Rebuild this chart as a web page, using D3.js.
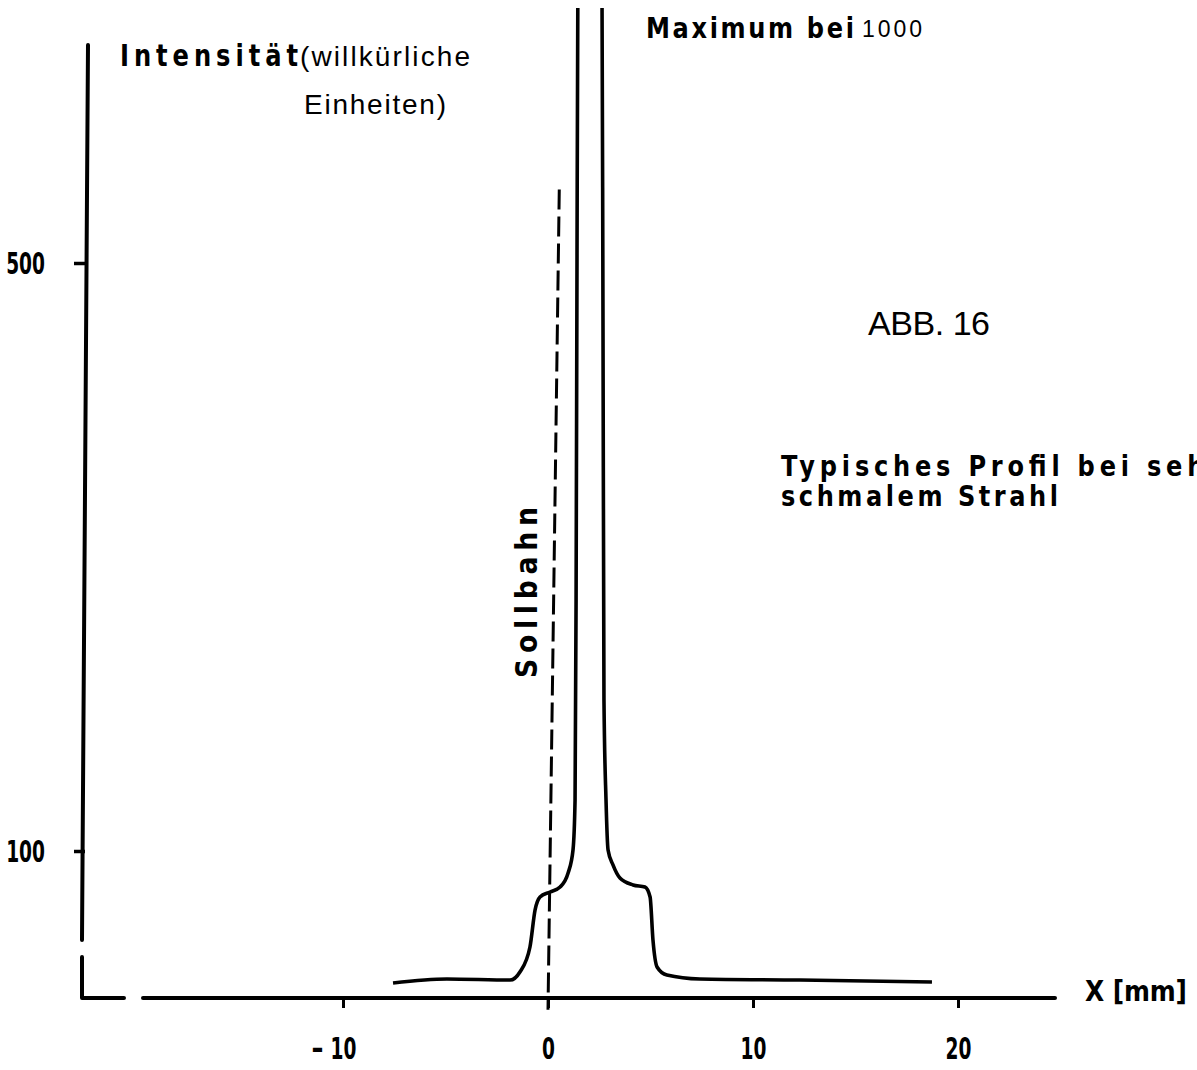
<!DOCTYPE html>
<html>
<head>
<meta charset="utf-8">
<script src="https://cdn.jsdelivr.net/npm/d3@7"></script>
<style>
  body { margin: 0; background: #fff; }
  svg { display: block; }
  .lettering { font-family: "DejaVu Sans", sans-serif; font-weight: bold; fill: #000; }
  .plain { font-family: "Liberation Sans", "Noto Sans", sans-serif; fill: #000; }
</style>
</head>
<body>
<div id="chart"></div>
<script>
// profile: position x in mm, intensity in arbitrary units
var profileX = [-7.56, -4.93, -1.85, -1.37, -0.88, -0.63, -0.39, 0.10, 0.59, 0.98, 1.22, 1.32, 1.37, 1.41, 1.46,
                2.05,
                2.63, 2.68, 2.73, 2.83, 2.93, 3.17, 3.51, 4.15, 4.73, 4.98, 5.12, 5.32, 5.80, 7.41, 12.29, 18.73];
var profileI = [10.2, 12.9, 12.2, 17.7, 34.7, 59.9, 68.7, 72.1, 75.5, 85.0, 100.7, 134.7, 270.7, 474.8, 700,
                1000,
                700, 474.8, 202.7, 134.7, 100.7, 90.5, 81.6, 76.9, 75.5, 68.7, 39.5, 21.1, 15.6, 12.9, 12.2, 10.9];

// Sollbahn (dashed reference line), drawn by hand slightly slanted
var sollbahnX = [0.55, 0];
var sollbahnI = [550, -8];

var xTicks = [-10, 0, 10, 20];
var yTicks = [100, 500];

var W = 1197, H = 1070;
var ink = "#000";

var svg = d3.select("#chart").append("svg")
    .attr("width", W)
    .attr("height", H);

var x = d3.scaleLinear().domain([-10, 20]).range([343, 958]);
var y = d3.scaleLinear().domain([0, 500]).range([998, 263]);

// clip so the peak runs off the top like on the scan
svg.append("clipPath").attr("id", "clip")
  .append("rect").attr("x", 0).attr("y", 8).attr("width", W).attr("height", H);

// ---- axes ----
// y axis: hand drawn, with a break near the bottom
svg.append("line")
    .attr("x1", 88).attr("y1", 45)
    .attr("x2", 82).attr("y2", 940)
    .attr("stroke", ink).attr("stroke-width", 4).attr("stroke-linecap", "round");
svg.append("path")
    .attr("d", "M82,957 L82," + y(0) + " L124," + y(0))
    .attr("fill", "none")
    .attr("stroke", ink).attr("stroke-width", 4).attr("stroke-linecap", "round").attr("stroke-linejoin", "round");

// x axis line
svg.append("line")
    .attr("x1", 143).attr("y1", y(0))
    .attr("x2", 1055).attr("y2", y(0))
    .attr("stroke", ink).attr("stroke-width", 4).attr("stroke-linecap", "round");

// narrow the tick lettering like the stencil on the scan
function squeeze(sel, f) {
  sel.each(function() {
    var w = this.getComputedTextLength();
    d3.select(this).attr("textLength", w * f).attr("lengthAdjust", "spacingAndGlyphs");
  });
}

var yAxis = svg.append("g")
    .attr("transform", "translate(85,0)")
    .call(d3.axisLeft(y).tickValues(yTicks).tickSize(11).tickPadding(29));
yAxis.select(".domain").remove();
yAxis.selectAll(".tick line").attr("stroke", ink).attr("stroke-width", 3.5);
yAxis.selectAll(".tick text")
    .attr("class", "lettering")
    .attr("font-size", 30)
    .attr("dy", "0.36em")
    .call(squeeze, 0.62);

var xAxis = svg.append("g")
    .attr("transform", "translate(0," + y(0) + ")")
    .call(d3.axisBottom(x).tickValues(xTicks).tickSize(10).tickPadding(30)
      .tickFormat(function(d) { return Math.abs(d); }));
xAxis.select(".domain").remove();
xAxis.selectAll(".tick line").attr("stroke", ink).attr("stroke-width", 3);
xAxis.selectAll(".tick text")
    .attr("class", "lettering")
    .attr("font-size", 30)
    .call(squeeze, 0.62);
// minus sign of negative ticks sits apart, as on the scan
xAxis.selectAll(".tick").filter(function(d) { return d < 0; })
  .append("text")
    .attr("class", "lettering")
    .attr("font-size", 30)
    .attr("x", -26)
    .attr("y", 40)
    .attr("dy", "0.71em")
    .attr("text-anchor", "middle")
    .text("-");

// ---- Sollbahn ----
svg.append("line")
    .attr("x1", x(sollbahnX[0])).attr("y1", y(sollbahnI[0]))
    .attr("x2", x(sollbahnX[1])).attr("y2", y(sollbahnI[1]))
    .attr("stroke", ink).attr("stroke-width", 3)
    .attr("stroke-dasharray", "20 7");

// ---- profile curve ----
var pts = profileX.map(function(v, i) { return [v, profileI[i]]; });
var line = d3.line()
    .x(function(d) { return x(d[0]); })
    .y(function(d) { return y(d[1]); })
    .curve(d3.curveMonotoneX);

svg.append("path")
    .datum(pts)
    .attr("clip-path", "url(#clip)")
    .attr("d", line)
    .attr("fill", "none")
    .attr("stroke", ink)
    .attr("stroke-width", 3.6)
    .attr("stroke-linejoin", "round");

// ---- texts ----
// sx narrows the glyphs, len is the width on the page (spacing fills the rest)
function label(txt, px, py, cls, size, len, sx, rot) {
  sx = sx || 1;
  var g = svg.append("g")
      .attr("transform", "translate(" + px + "," + py + ")" + (rot ? " rotate(" + rot + ")" : "") + " scale(" + sx + ",1)");
  var t = g.append("text")
      .attr("class", cls)
      .attr("font-size", size)
      .text(txt);
  if (len) t.attr("textLength", len / sx).attr("lengthAdjust", "spacing");
  return t;
}

label("Intensität", 120, 66, "lettering", 31, 178, 0.78);
label("(willkürliche", 300, 66, "plain", 28, 170);
label("Einheiten)", 304, 114, "plain", 28, 142);
label("Maximum bei", 646, 38, "lettering", 28, 208, 0.86);
label("1000", 862, 37, "plain", 23, 60);
label("ABB. 16", 868, 335, "plain", 34, 122);
label("Typisches  Profil  bei  sehr", 781, 476, "lettering", 28, 440, 0.86);
label("schmalem  Strahl", 781, 506, "lettering", 28, 277, 0.86);
label("X [mm]", 1085, 1001, "lettering", 29, 102, 0.86);
label("Sollbahn", 537, 678, "lettering", 31, 171, 0.86, -90);
</script>
</body>
</html>
